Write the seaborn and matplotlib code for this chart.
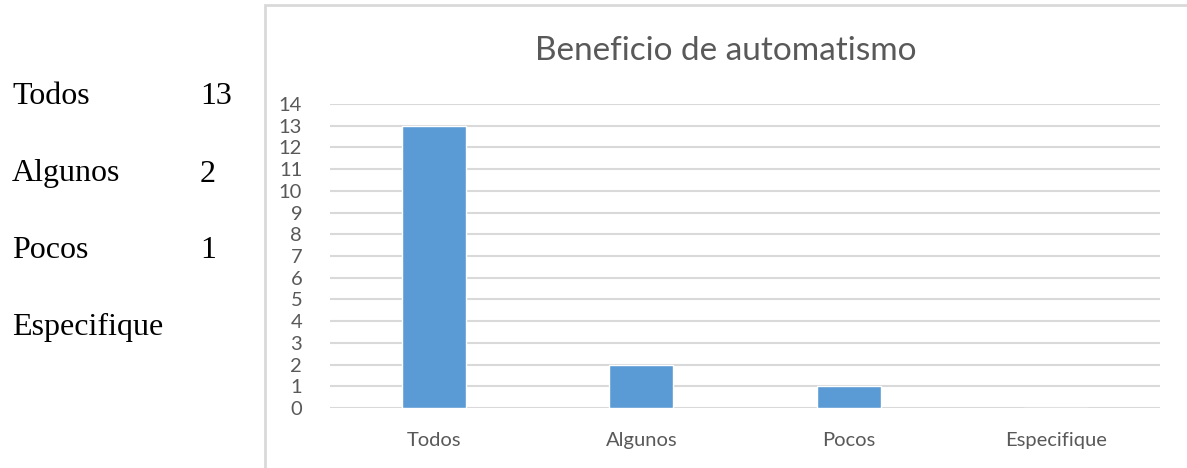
import matplotlib
matplotlib.use('Agg')
import pandas as pd
import seaborn as sns
import matplotlib.pyplot as plt
from matplotlib.patches import Rectangle

# Survey answers: how many benefit from the automation
categories = ['Todos', 'Algunos', 'Pocos', 'Especifique']
counts = [13, 2, 1, 0]
table_values = ['13', '2', '1', '']
y_ticks = list(range(0, 15))

df = pd.DataFrame({'categoria': categories, 'cantidad': counts})

sns.set_theme(style='white')
plt.rcParams['font.family'] = ['Lato', 'DejaVu Sans']

fig = plt.figure(figsize=(11.87, 4.68), dpi=100)

# chart frame (light border like an embedded office chart, cut off at right/bottom)
fig.patches.append(Rectangle((265 / 1187, -0.1), 1.0, 1.1 - 5 / 468, transform=fig.transFigure,
                             fill=False, edgecolor='#D9D9D9', linewidth=2, clip_on=False))

ax = fig.add_axes([330 / 1187, 1 - 408 / 468, 830 / 1187, 304 / 468])
sns.barplot(data=df, x='categoria', y='cantidad', color='#5B9BD5', width=0.31,
            saturation=1, ax=ax, zorder=3)

ax.set_ylim(0, 14)
ax.set_xlim(-0.5, 3.5)
ax.set_yticks(y_ticks)
ax.yaxis.grid(True, color='#D9D9D9', linewidth=1.5, zorder=0)
ax.set_axisbelow(True)
for s in ax.spines.values():
    s.set_visible(False)
ax.set_xlabel('')
ax.set_ylabel('')
ax.tick_params(axis='both', length=0, labelsize=14.5, labelcolor='#595959')
ax.tick_params(axis='x', pad=17)
ax.tick_params(axis='y', pad=20)

fig.text(726 / 1187, 1 - 51 / 468, 'Beneficio de automatismo', ha='center', va='center',
         fontsize=24, color='#595959')

# side table in document text
rows_y = [97, 174, 250, 327]
for cat, val, yy in zip(categories, table_values, rows_y):
    fig.text(12 / 1187, 1 - yy / 468, cat, ha='left', va='center', fontsize=23,
             family='Liberation Serif', color='black')
    fig.text(200 / 1187, 1 - yy / 468, val, ha='left', va='center', fontsize=23,
             family='Liberation Serif', color='black')

fig.savefig('out.png', dpi=100)
